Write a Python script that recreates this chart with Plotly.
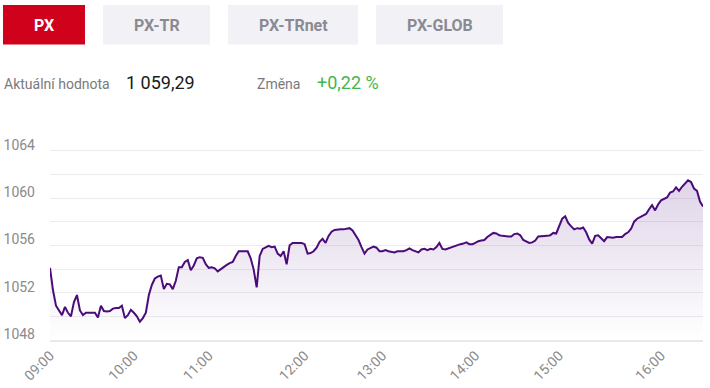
import plotly.graph_objects as go

# ---- data (ordinal axis: one sample per index) ----
PX_VALUES = [
    1054.1, 1052.2, 1050.9, 1050.45, 1050.1, 1050.8, 1050.3, 1050.0, 1051.2, 1051.8,
    1050.5, 1050.1, 1050.3, 1050.3, 1050.3, 1050.3, 1049.9, 1050.9, 1050.45, 1050.4,
    1050.45, 1050.65, 1050.7, 1050.7, 1050.9, 1049.85, 1050.1, 1050.55, 1050.3, 1050.0,
    1049.55, 1049.85, 1050.3, 1051.8, 1052.65, 1053.2, 1053.35, 1053.45, 1052.3, 1052.75,
    1052.7, 1052.3, 1053.0, 1054.15, 1054.15, 1054.6, 1054.75, 1053.9, 1054.3, 1054.9,
    1055.0, 1054.95, 1054.4, 1054.1, 1054.15, 1054.05, 1053.8, 1054.0, 1054.15, 1054.35,
    1054.5, 1054.6, 1055.1, 1055.5, 1055.5, 1055.5, 1055.5, 1054.9, 1053.95, 1052.45,
    1055.1, 1055.7, 1055.85, 1055.95, 1055.85, 1055.9, 1055.3, 1055.1, 1055.5, 1054.4,
    1056.0, 1056.2, 1056.2, 1056.2, 1056.2, 1056.1, 1055.3, 1055.35, 1055.5, 1055.8,
    1056.3, 1056.55, 1056.2, 1056.8, 1057.15, 1057.3, 1057.35, 1057.35, 1057.35, 1057.4,
    1057.45, 1057.25, 1056.8, 1056.45, 1055.85, 1055.3, 1055.65, 1055.75, 1055.9, 1055.8,
    1055.5, 1055.5, 1055.6, 1055.5, 1055.45, 1055.4, 1055.5, 1055.5, 1055.5, 1055.6,
    1055.75, 1055.6, 1055.5, 1055.4, 1055.65, 1055.7, 1055.6, 1055.7, 1055.65, 1055.85,
    1056.2, 1055.7, 1055.65, 1055.75, 1055.85, 1055.95, 1056.0, 1056.1, 1056.15, 1056.25,
    1056.1, 1056.1, 1056.2, 1056.35, 1056.4, 1056.45, 1056.7, 1056.9, 1057.05, 1057.0,
    1056.85, 1056.8, 1056.75, 1056.75, 1056.75, 1056.95, 1057.0, 1056.85, 1056.45, 1056.3,
    1056.2, 1056.25, 1056.4, 1056.75, 1056.75, 1056.8, 1056.8, 1056.85, 1057.05, 1057.0,
    1057.6, 1058.25, 1058.45, 1057.9, 1057.6, 1057.35, 1057.45, 1057.4, 1057.5, 1057.1,
    1056.5, 1056.15, 1056.8, 1056.85, 1056.6, 1056.35, 1056.7, 1056.65, 1056.65, 1056.7,
    1056.7, 1056.7, 1056.95, 1057.1, 1057.4, 1058.0, 1058.25, 1058.4, 1058.55, 1058.65,
    1059.05, 1059.4, 1058.95, 1059.45, 1059.8, 1059.9, 1060.05, 1060.45, 1060.55, 1060.9,
    1060.6, 1060.95, 1061.25, 1061.5, 1061.35, 1060.8, 1060.6, 1059.7, 1059.29,
]
HOUR_LABELS = ["09:00", "10:00", "11:00", "12:00", "13:00", "14:00", "15:00", "16:00"]
HOUR_INDEX = [0, 28, 53, 85, 111, 142, 170, 204]
TABS = ["PX", "PX-TR", "PX-TRnet", "PX-GLOB"]
CURRENT_LABEL = "Aktuální hodnota"
CURRENT_VALUE = "1 059,29"
CHANGE_LABEL = "Změna"
CHANGE_VALUE = "+0,22 %"

W, H = 710, 388
L, R, T, B = 50, 7, 127, 48
PW, PH = W - L - R, H - T - B

def px(x):
    return (x - L) / PW

def py(y):
    return (H - B - y) / PH

FONT = "Roboto, Arial, sans-serif"
LINE = "#4b0c7a"

fig = go.Figure()
fig.add_trace(go.Scatter(
    x=list(range(len(PX_VALUES))), y=PX_VALUES, mode="lines",
    line=dict(color=LINE, width=2),
    fill="tozeroy",
    fillgradient=dict(type="vertical",
                      colorscale=[[0, "rgba(110,60,150,0.0)"], [1, "rgba(110,60,150,0.22)"]],
                      start=1048, stop=1061.6),
    hoverinfo="skip", showlegend=False,
))

shapes = []
annotations = []
tab_boxes = [(3, 85), (103, 210), (228, 358), (376, 503)]
for i, (name, (x0, x1)) in enumerate(zip(TABS, tab_boxes)):
    active = i == 0
    shapes.append(dict(type="rect", xref="paper", yref="paper",
                       x0=px(x0), x1=px(x1), y0=py(44.5), y1=py(5),
                       fillcolor="#d0021b" if active else "#f2f2f6", line=dict(width=0),
                       layer="below"))
    annotations.append(dict(xref="paper", yref="paper", x=px((x0 + x1) / 2), y=py(25.5),
                            text="<b>%s</b>" % name, showarrow=False,
                            xanchor="center", yanchor="middle",
                            font=dict(family=FONT, size=16, color="#ffffff" if active else "#8a8a92")))

annotations += [
    dict(xref="paper", yref="paper", x=px(2), y=py(84), text=CURRENT_LABEL, showarrow=False,
         xanchor="left", yanchor="middle", font=dict(family=FONT, size=14, color="#7a7a7a")),
    dict(xref="paper", yref="paper", x=px(124), y=py(83), text=CURRENT_VALUE, showarrow=False,
         xanchor="left", yanchor="middle", font=dict(family=FONT, size=18, color="#1a1a1a")),
    dict(xref="paper", yref="paper", x=px(255), y=py(84), text=CHANGE_LABEL, showarrow=False,
         xanchor="left", yanchor="middle", font=dict(family=FONT, size=14, color="#7a7a7a")),
    dict(xref="paper", yref="paper", x=px(315), y=py(83), text=CHANGE_VALUE, showarrow=False,
         xanchor="left", yanchor="middle", font=dict(family=FONT, size=18, color="#44b649")),
]

fig.update_layout(
    width=W, height=H,
    margin=dict(l=L, r=R, t=T, b=B, pad=0, autoexpand=False),
    paper_bgcolor="#ffffff", plot_bgcolor="#ffffff",
    font=dict(family=FONT, size=14, color="#8a8a8a"),
    shapes=shapes, annotations=annotations,
    xaxis=dict(range=[0, len(PX_VALUES) - 1], tickmode="array",
               tickvals=HOUR_INDEX, ticktext=HOUR_LABELS, tickangle=-45,
               showgrid=False, zeroline=False, showline=True, automargin=False,
               linecolor="#e9e9ec", linewidth=2, ticks="",
               tickfont=dict(family=FONT, size=14, color="#8a8a8a")),
    yaxis=dict(range=[1048, 1066], tick0=1048, dtick=4, automargin=False,
               showgrid=True, gridcolor="#ececef", gridwidth=1,
               minor=dict(dtick=2, tick0=1048, showgrid=True, gridcolor="#ececef", gridwidth=1),
               zeroline=False, showline=False, ticks="",
               ticklabelposition="outside", ticklabelstandoff=14, ticklabelshift=-6,
               tickfont=dict(family=FONT, size=14, color="#8a8a8a")),
)

fig.write_html("out.html", config={"displayModeBar": False},
               post_script="document.body.style.margin='0px';document.body.style.overflow='hidden';")
